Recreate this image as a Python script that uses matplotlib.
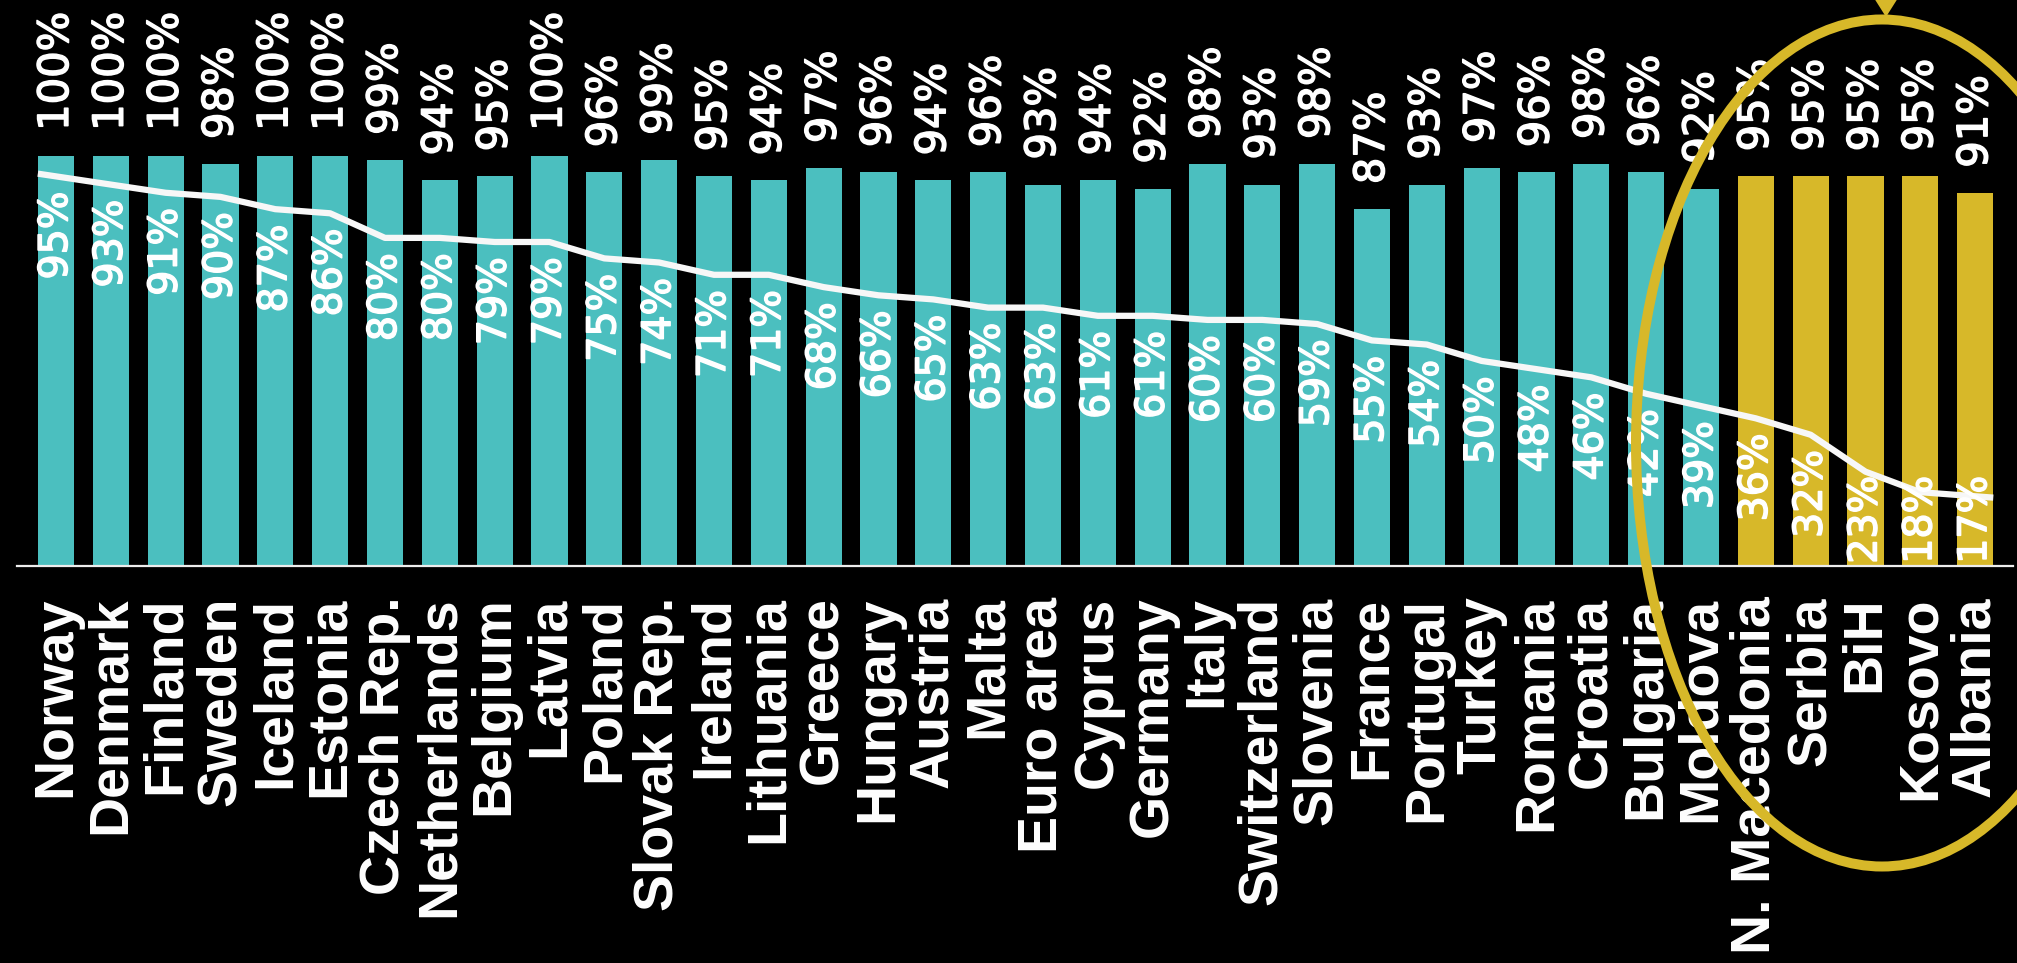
import numpy as np
import matplotlib.pyplot as plt
import matplotlib.patheffects as pe
from matplotlib.patches import Ellipse, Polygon

# countries in chart order
countries = ["Norway", "Denmark", "Finland", "Sweden", "Iceland", "Estonia",
             "Czech Rep.", "Netherlands", "Belgium", "Latvia", "Poland",
             "Slovak Rep.", "Ireland", "Lithuania", "Greece", "Hungary",
             "Austria", "Malta", "Euro area", "Cyprus", "Germany", "Italy",
             "Switzerland", "Slovenia", "France", "Portugal", "Turkey",
             "Romania", "Croatia", "Bulgaria", "Moldova", "N. Macedonia",
             "Serbia", "BiH", "Kosovo", "Albania"]

# bar series (labels on top of the bars)
bar_values = [100, 100, 100, 98, 100, 100, 99, 94, 95, 100, 96, 99, 95, 94,
              97, 96, 94, 96, 93, 94, 92, 98, 93, 98, 87, 93, 97, 96, 98, 96,
              92, 95, 95, 95, 95, 91]

# line series (labels inside the bars)
line_values = [95, 93, 91, 90, 87, 86, 80, 80, 79, 79, 75, 74, 71, 71, 68, 66,
               65, 63, 63, 61, 61, 60, 60, 59, 55, 54, 50, 48, 46, 42, 39, 36,
               32, 23, 18, 17]

highlighted = ["N. Macedonia", "Serbia", "BiH", "Kosovo", "Albania"]

TEAL = "#4BBFBF"
GOLD = "#D7B829"

fig = plt.figure(figsize=(20.17, 9.63), dpi=100, facecolor="black")
ax = fig.add_axes([17 / 2017, 1 - 566 / 963, (2013 - 17) / 2017, 566 / 963])
ax.set_facecolor("black")

x = np.arange(len(countries))
colors = [GOLD if c in highlighted else TEAL for c in countries]
ax.bar(x, bar_values, width=0.66, color=colors, zorder=2)

# line, stretched a little beyond the first and last bar
lv = np.array(line_values, dtype=float)
ext = 0.33
x_line = np.r_[-ext, x, x[-1] + ext]
y_line = np.r_[lv[0] + ext * (lv[0] - lv[1]), lv, lv[-1] + ext * (lv[-1] - lv[-2])]
ax.plot(x_line, y_line, color="#F7F7F7", lw=4.5, solid_capstyle="butt",
        solid_joinstyle="round", zorder=3)

# slightly heavier strokes for the value labels
thick = [pe.withStroke(linewidth=1.1, foreground="white")]

for xi, v in zip(x, bar_values):
    ax.annotate(f"{v}%", (xi, v), xytext=(0, 18), textcoords="offset points",
                rotation=90, ha="center", va="bottom", color="white",
                fontsize=30, family="DejaVu Sans", zorder=4, path_effects=thick)

label_pos = np.maximum(lv - 3.7, 22)
for xi, v, pos in zip(x, line_values, label_pos):
    ax.text(xi, pos, f"{v}%", rotation=90, ha="center", va="top",
            color="white", fontsize=28.5, family="DejaVu Sans", zorder=4,
            path_effects=thick)

ax.set_xlim(-0.71, 35.69)
ax.set_ylim(0, 138)
ax.set_xticks(x)
ax.set_xticklabels(countries, rotation=90, ha="center", va="top",
                   color="white", fontsize=40, fontweight="bold",
                   family="Liberation Sans")
ax.tick_params(axis="x", length=0, pad=22)
ax.set_yticks([])
for side in ["top", "left", "right"]:
    ax.spines[side].set_visible(False)
ax.spines["bottom"].set_color("#EDEDED")
ax.spines["bottom"].set_linewidth(1.6)

# highlight ellipse and arrow tip (in inches from bottom-left)
ell = Ellipse((18.82, 5.20), 4.92, 8.47, fill=False, edgecolor=GOLD, lw=7.2,
              transform=fig.dpi_scale_trans, zorder=10)
fig.add_artist(ell)
tri = Polygon([(18.74, 9.65), (18.98, 9.65), (18.86, 9.46)], closed=True,
              facecolor=GOLD, edgecolor="none", transform=fig.dpi_scale_trans,
              zorder=10)
fig.add_artist(tri)

fig.savefig("out.png", dpi=100, facecolor="black")
